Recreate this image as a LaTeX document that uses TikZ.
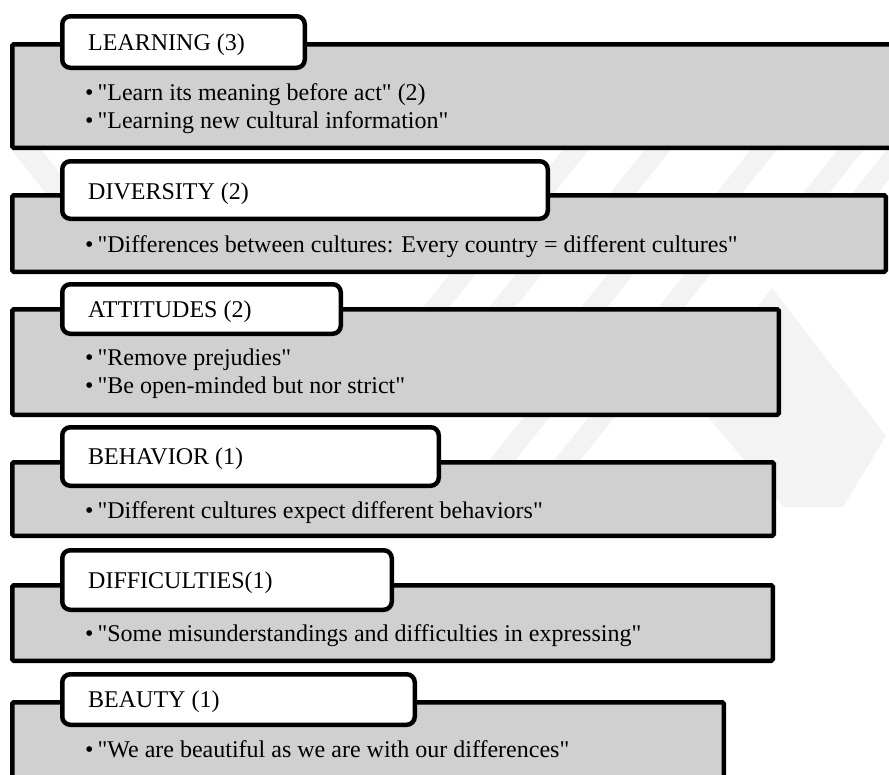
\documentclass[tikz,border=0pt]{standalone}
\usepackage{fontspec}
\setmainfont{Liberation Serif}
\definecolor{panelgray}{RGB}{208,208,208}
\definecolor{wmgray}{RGB}{243,243,243}
% straight double quote, kept out of the TeX ligature mapping
\newcommand{\sq}{\textquotedbl}
% one slanted band of the faint background emblem:
% #1 centre x at height #2, band runs from y=#3 (top) to y=#4 (bottom)
\newcommand{\wmstripe}[4]{%
  \fill[wmgray] ({#1-13+0.8*(#2-#3)},#3) -- ({#1+13+0.8*(#2-#3)},#3)
    -- ({#1+13-0.8*(#4-#2)},#4) -- ({#1-13-0.8*(#4-#2)},#4) -- cycle;}
\begin{document}
\begin{tikzpicture}[x=1pt,y=-1pt,
  panel/.style={draw=black, line width=4.5pt, fill=panelgray,
    rounded corners=1.5pt, anchor=north west, inner sep=0pt, outer sep=0pt},
  tab/.style={draw=black, line width=4.5pt, fill=white,
    rounded corners=8pt, anchor=north west, inner sep=0pt, outer sep=0pt},
  tabtext/.style={anchor=base west, inner sep=0pt,
    font=\fontsize{24}{28}\selectfont},
  itemtext/.style={anchor=base west, inner sep=0pt,
    font=\fontsize{24}{28}\selectfont}]
\useasboundingbox (0,0) rectangle (889,774);
\clip (0,0) rectangle (889,774);

% faint background emblem
\wmstripe{558}{172}{148}{196}
\wmstripe{640}{172}{148}{196}
\wmstripe{746}{172}{148}{196}
\wmstripe{833}{172}{148}{196}
\wmstripe{882}{172}{148}{196}
\wmstripe{450}{290}{272}{310}
\wmstripe{516}{290}{272}{310}
\wmstripe{608}{290}{272}{310}
\wmstripe{685}{290}{272}{310}
\wmstripe{520}{438}{415}{462}
\wmstripe{585}{438}{415}{462}
\fill[wmgray] (10,148) -- (40,148) -- (78,196) -- (48,196) -- cycle;
\fill[wmgray] (690,395) -- (772,288) -- (886,436) -- (843,507)
  -- (783,507) -- cycle;

% grey panels
\node[panel, minimum width=890.75pt, minimum height=103.5pt] (p1) at (12.25,44.25) {};
\node[panel, minimum width=873.5pt, minimum height=76.5pt] (p2) at (12.25,195.25) {};
\node[panel, minimum width=766.5pt, minimum height=105.5pt] (p3) at (12.25,309.25) {};
\node[panel, minimum width=761.5pt, minimum height=73.5pt] (p4) at (12.25,462.25) {};
\node[panel, minimum width=760.5pt, minimum height=75.5pt] (p5) at (12.25,585.25) {};
\node[panel, minimum width=711.5pt, minimum height=97.75pt] (p6) at (12.25,702.25) {};

% white heading tabs
\node[tab, minimum width=242.5pt, minimum height=51.5pt] (t1) at (62.25,16.25) {};
\node[tab, minimum width=485.5pt, minimum height=57.5pt] (t2) at (62.25,161.25) {};
\node[tab, minimum width=278.5pt, minimum height=49.5pt] (t3) at (62.25,284.25) {};
\node[tab, minimum width=376.5pt, minimum height=58.5pt] (t4) at (62.25,427.25) {};
\node[tab, minimum width=329.5pt, minimum height=59.5pt] (t5) at (62.25,550.25) {};
\node[tab, minimum width=352.5pt, minimum height=50.5pt] (t6) at (62.25,674.25) {};

% headings
\node[tabtext] (h1) at (88,50) {LEARNING (3)};
\node[tabtext] (h2) at (88,199) {DIVERSITY (2)};
\node[tabtext] (h3) at (88,317) {ATTITUDES (2)};
\node[tabtext] (h4) at (88,464.5) {BEHAVIOR (1)};
\node[tabtext] (h5) at (88,588) {DIFFICULTIES(1)};
\node[tabtext] (h6) at (88,707.5) {BEAUTY (1)};

% quoted items
\node[itemtext] (i1a) at (85,100) {•\hspace{4pt}\sq Learn its meaning before act\sq{} (2)};
\node[itemtext] (i1b) at (85,128) {•\hspace{4pt}\sq Learning new cultural information\sq};
\node[itemtext] (i2a) at (85,252) {•\hspace{4pt}\sq Differences between cultures: Every country = different cultures\sq};
\node[itemtext] (i3a) at (85,365) {•\hspace{4pt}\sq Remove prejudies\sq};
\node[itemtext] (i3b) at (85,393) {•\hspace{4pt}\sq Be open-minded but nor strict\sq};
\node[itemtext] (i4a) at (85,518) {•\hspace{4pt}\sq Different cultures expect different behaviors\sq};
\node[itemtext] (i5a) at (85,641) {•\hspace{4pt}\sq Some misunderstandings and difficulties in expressing\sq};
\node[itemtext] (i6a) at (85,757) {•\hspace{4pt}\sq We are beautiful as we are with our differences\sq};
\end{tikzpicture}
\end{document}
